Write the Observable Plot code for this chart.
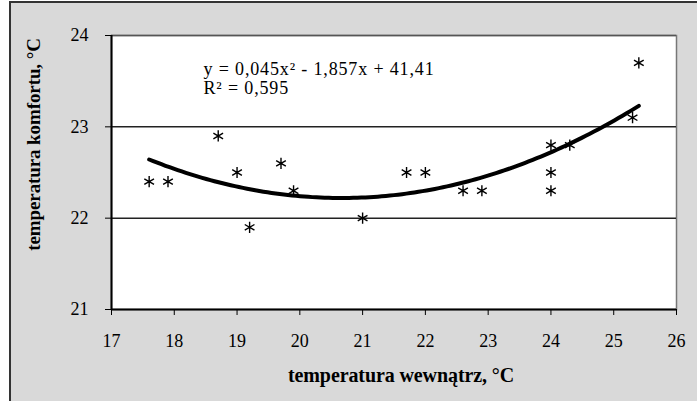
<!DOCTYPE html>
<html><head><meta charset="utf-8">
<script src="https://cdn.jsdelivr.net/npm/d3@7"></script>
<script src="https://cdn.jsdelivr.net/npm/@observablehq/plot@0.6"></script>
<style>
body{margin:0;background:#fff;}
#wrap{position:relative;width:697px;height:401px;overflow:hidden;background:#fff;}
#box{position:absolute;left:9px;top:1px;width:700px;height:420px;background:#d9d9d9;border-left:2px solid #333;border-top:2px solid #333;}
#chart{position:absolute;left:0;top:0;}
</style></head><body>
<div id="wrap"><div id="box"></div><div id="chart"></div></div>
<script>
// Data
const tempInside  = [17.6, 17.9, 18.7, 19.0, 19.2, 19.7, 19.9, 21.0, 21.7, 22.0, 22.6, 22.9, 24.0, 24.0, 24.0, 24.3, 25.3, 25.4];
const tempComfort = [22.4, 22.4, 22.9, 22.5, 21.9, 22.6, 22.3, 22.0, 22.5, 22.5, 22.3, 22.3, 22.8, 22.5, 22.3, 22.8, 23.1, 23.7];
const xTicks = [17, 18, 19, 20, 21, 22, 23, 24, 25, 26];
const yTicks = [21, 22, 23, 24];
const equationLines = ["y = 0,045x² - 1,857x + 41,41", "R² = 0,595"];
const xTitle = "temperatura wewnątrz, °C";
const yTitle = "temperatura komfortu, °C";

const points = tempInside.map((x, i) => ({x, y: tempComfort[i]}));

// Quadratic least-squares trend (polynomial, order 2) fitted to the points
function fitQuadratic(xs, ys) {
  const m = d3.mean(xs);
  const u = xs.map(x => x - m);
  const S = [0,0,0,0,0], T = [0,0,0];
  u.forEach((v, i) => {
    for (let k = 0; k < 5; k++) S[k] += v ** k;
    for (let k = 0; k < 3; k++) T[k] += (v ** k) * ys[i];
  });
  const A = [[S[4], S[3], S[2], T[2]], [S[3], S[2], S[1], T[1]], [S[2], S[1], S[0], T[0]]];
  for (let c = 0; c < 3; c++) {
    for (let r = c + 1; r < 3; r++) {
      const f = A[r][c] / A[c][c];
      for (let k = c; k < 4; k++) A[r][k] -= f * A[c][k];
    }
  }
  const sol = [0,0,0];
  for (let r = 2; r >= 0; r--) {
    let s = A[r][3];
    for (let k = r + 1; k < 3; k++) s -= A[r][k] * sol[k];
    sol[r] = s / A[r][r];
  }
  const [a, b, c] = sol;
  return x => { const v = x - m; return a * v * v + b * v + c; };
}
const f = fitQuadratic(tempInside, tempComfort);
const [x0, x1] = d3.extent(tempInside);
const trend = d3.range(0, 121).map(i => { const x = x0 + (x1 - x0) * i / 120; return {x, y: f(x)}; });

const plot = Plot.plot({
  width: 697, height: 401,
  marginLeft: 111, marginRight: 21, marginTop: 35, marginBottom: 92,
  style: {background: "transparent", fontFamily: "'Liberation Serif', serif", fontSize: "18px", color: "#000"},
  x: {domain: [17, 26]},
  y: {domain: [21, 24]},
  marks: [
    Plot.frame({fill: "white", stroke: "#777", strokeWidth: 1.5}),
    Plot.ruleY([22, 23], {stroke: "#222", strokeWidth: 1.5}),
    Plot.ruleY([24], {stroke: "#555", strokeWidth: 1.5}),
    Plot.axisX({ticks: xTicks, tickSize: 6, tickPadding: 19, label: null, tickFormat: d => String(d), fontSize: 18}),
    Plot.axisY({ticks: yTicks, tickSize: 6, tickPadding: 17, label: null, tickFormat: d => String(d), fontSize: 18}),
    Plot.ruleX([17], {stroke: "#000", strokeWidth: 2}),
    Plot.ruleY([21], {stroke: "#000", strokeWidth: 2}),
    Plot.line(trend, {x: "x", y: "y", stroke: "#000", strokeWidth: 4, curve: "linear"}),
    Plot.dot(points, {x: "x", y: "y", symbol: "asterisk", r: 5.3, stroke: "#000", strokeWidth: 1.4}),
    Plot.text([equationLines.join("\n")], {frameAnchor: "top-left", dx: 92, dy: 25, lineAnchor: "top", lineHeight: 1.1, fontSize: 18, textAnchor: "start"}),
    Plot.text([xTitle], {frameAnchor: "bottom", dx: 7, dy: 72, fontSize: 20, fontWeight: "bold"}),
    Plot.text([yTitle], {frameAnchor: "left", textAnchor: "middle", rotate: -90, dx: -78, dy: -28, fontSize: 19, fontWeight: "bold"})
  ]
});
// letter spacing for the annotation and titles
const textGroups = d3.select(plot).selectAll('g[aria-label="text"]').nodes();
d3.select(textGroups[0]).style("letter-spacing", "0.85px");
d3.select(textGroups[1]).style("letter-spacing", "-0.1px");
d3.select(textGroups[2]).style("letter-spacing", "-0.1px");
document.getElementById("chart").appendChild(plot);
</script>
</body></html>
